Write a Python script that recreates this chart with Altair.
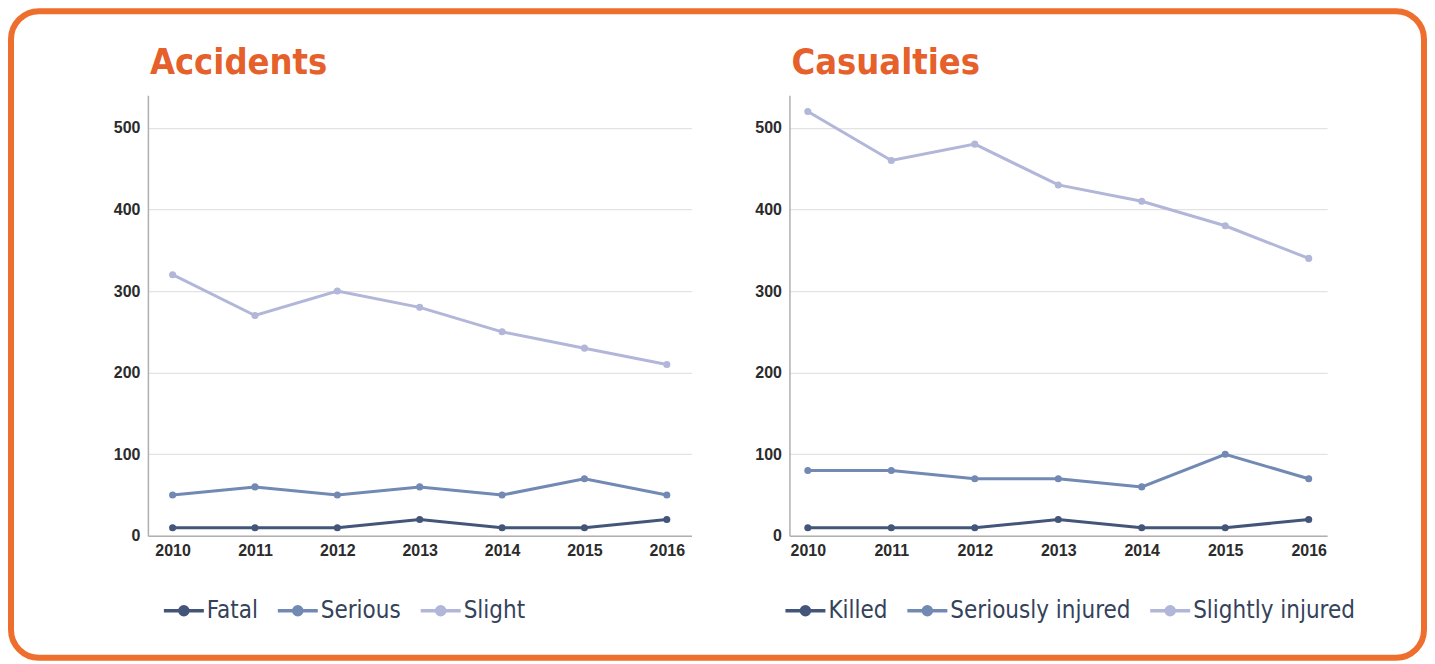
import altair as alt
import pandas as pd

years = ["2010", "2011", "2012", "2013", "2014", "2015", "2016"]

acc_series = ["Fatal", "Serious", "Slight"]
acc_fatal = [10, 10, 10, 20, 10, 10, 20]
acc_serious = [50, 60, 50, 60, 50, 70, 50]
acc_slight = [320, 270, 300, 280, 250, 230, 210]

cas_series = ["Killed", "Seriously injured", "Slightly injured"]
cas_killed = [10, 10, 10, 20, 10, 10, 20]
cas_serious = [80, 80, 70, 70, 60, 100, 70]
cas_slight = [520, 460, 480, 430, 410, 380, 340]

titles = ["Accidents", "Casualties"]
y_ticks = [0, 100, 200, 300, 400, 500]
colors = ["#44557a", "#7189b3", "#b2b6d8"]

ORANGE = "#ee6f2d"
TITLE_ORANGE = "#e5602a"
COND = "'DejaVu Sans Condensed', 'DejaVu Sans', sans-serif"

SYMBOL = ("M-1,0H1"
          "M0.2,0A0.2,0.2,0,1,1,-0.2,0A0.2,0.2,0,1,1,0.2,0"
          "M0.1,0A0.1,0.1,0,1,1,-0.1,0A0.1,0.1,0,1,1,0.1,0")


def long_df(series, values):
    rows = []
    for s, vals in zip(series, values):
        for yr, v in zip(years, vals):
            rows.append({"year": yr, "value": v, "series": s})
    return pd.DataFrame(rows)


def panel(df, series, title, width, pad, legend_x, extra=None):
    base = alt.Chart(df)
    x = alt.X("year:O", sort=years,
              scale=alt.Scale(type="point", padding=pad),
              axis=alt.Axis(title=None, labelAngle=0, ticks=False, grid=False,
                            labelFont="Liberation Sans", labelFontWeight="bold",
                            labelFontSize=16, labelColor="#2b2b2b", labelPadding=7,
                            domainColor="#b0b0b0", domainWidth=1.5))
    y = alt.Y("value:Q",
              scale=alt.Scale(domain=[0, 540], nice=False),
              axis=alt.Axis(title=None, values=y_ticks, ticks=False, grid=True,
                            gridColor="#e3e3e3", gridWidth=1.2,
                            labelFont="Liberation Sans", labelFontWeight="bold",
                            labelFontSize=16, labelColor="#2b2b2b", labelPadding=8,
                            domainColor="#b0b0b0", domainWidth=1.5))
    color = alt.Color("series:N", sort=series,
                      scale=alt.Scale(domain=series, range=colors),
                      legend=alt.Legend(title=None, orient="none", direction="horizontal",
                                        legendX=legend_x, legendY=494,
                                        symbolType=SYMBOL, symbolSize=1600,
                                        symbolStrokeWidth=3.5, symbolOpacity=1,
                                        labelFont=COND,
                                        labelFontSize=24, labelColor="#34425a",
                                        labelOffset=1, columnPadding=12,
                                        labelLimit=400))
    lines = base.mark_line(strokeWidth=3).encode(x=x, y=y, color=color)
    pts = base.mark_circle(size=50, opacity=1).encode(x=x, y=y, color=color)
    head = alt.Chart(pd.DataFrame({"t": [title]})).mark_text(
        align="left", baseline="alphabetic", font=COND, fontWeight="bold",
        fontSize=36, color=TITLE_ORANGE
    ).encode(text="t:N", x=alt.value(2), y=alt.value(-21))
    layers = [lines, pts, head]
    if extra is not None:
        layers = [extra] + layers
    return alt.layer(*layers).properties(width=width, height=441)


frame = alt.Chart(pd.DataFrame({"f": [0]})).mark_rect(
    filled=False, stroke=ORANGE, strokeWidth=6, cornerRadius=28
).encode(
    x=alt.value(-137), x2=alt.value(1277),
    y=alt.value(-84), y2=alt.value(563),
)

acc_df = long_df(acc_series, [acc_fatal, acc_serious, acc_slight])
cas_df = long_df(cas_series, [cas_killed, cas_serious, cas_slight])

left = panel(acc_df, acc_series, titles[0], 544, 0.3, 14, extra=frame)
right = panel(cas_df, cas_series, titles[1], 538, 0.22, -6)

chart = alt.hconcat(left, right, spacing=98, bounds="flush").resolve_scale(
    color="independent", x="independent", y="independent"
).properties(
    padding=0, background="white"
).configure_view(stroke=None)

chart.save("out.html", embed_options={"renderer": "svg", "actions": False})
